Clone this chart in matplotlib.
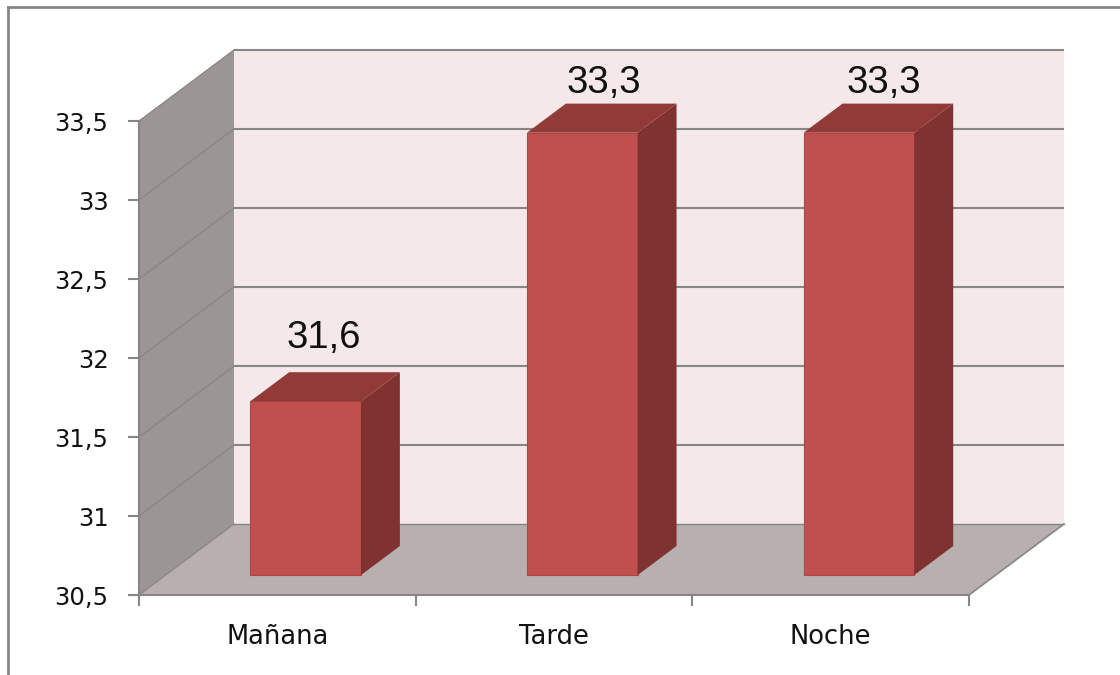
import matplotlib
matplotlib.use('Agg')
import matplotlib.pyplot as plt
from matplotlib.lines import Line2D
from matplotlib.patches import Polygon

categories = ['Mañana', 'Tarde', 'Noche']
values = [31.6, 33.3, 33.3]
value_labels = ['31,6', '33,3', '33,3']
y_ticks = [30.5, 31, 31.5, 32, 32.5, 33, 33.5]
y_tick_labels = ['30,5', '31', '31,5', '32', '32,5', '33', '33,5']

W, H = 1120, 675
BASE = 30.5
TOP = 33.5
# depth of the fake 3D box, in data units
DEPTH_X = 95 / (830 / 3)
DEPTH_Y = 71 / (474 / 3)
BAR_WIDTH = 0.4
BAR_SHIFT = 0.006
BAR_FRONT = 0.28
BAR_BACK = 0.69

GRID = '#868686'
WALL = '#9b9695'
FLOOR = '#b8afaf'
BACK = '#f4e8e8'
BAR = '#c0504d'
BAR_SIDE = '#7f3230'
BAR_TOP = '#923a38'


def project(x, y, depth):
    return x + depth * DEPTH_X, y + depth * DEPTH_Y


def face(ax, points, color, zorder, edge='none'):
    xy = [project(*p) for p in points]
    ax.add_patch(Polygon(xy, closed=True, facecolor=color, edgecolor=edge,
                         linewidth=0.8, clip_on=False, zorder=zorder))


def draw_box(ax):
    n = len(categories)
    face(ax, [(0, BASE, 1), (n, BASE, 1), (n, TOP, 1), (0, TOP, 1)], BACK, 1)
    face(ax, [(0, BASE, 0), (0, BASE, 1), (0, TOP, 1), (0, TOP, 0)], WALL, 1)
    face(ax, [(0, BASE, 0), (n, BASE, 0), (n, BASE, 1), (0, BASE, 1)], FLOOR, 1)
    for tick in y_ticks:
        x0, y0 = project(0, tick, 0)
        x1, y1 = project(0, tick, 1)
        x2, y2 = project(n, tick, 1)
        if tick != BASE:
            ax.plot([x1, x2], [y1, y2], color=GRID, lw=1.5, zorder=2, clip_on=False,
                    solid_capstyle='butt')
        else:
            ax.plot([x1, x2], [y1, y2], color=GRID, lw=1.0, zorder=2, clip_on=False)
        ax.plot([x0, x1], [y0, y1], color=GRID, lw=0.9, zorder=2, clip_on=False)
    x0, y0 = project(n, BASE, 0)
    x1, y1 = project(n, BASE, 1)
    ax.plot([x0, x1], [y0, y1], color=GRID, lw=1.2, zorder=2, clip_on=False)


def draw_bars(ax):
    nudges = [(-19, 24), (-16, 11), (-12, 11)]
    for i, value in enumerate(values):
        left = i + 0.5 - BAR_WIDTH / 2 + BAR_SHIFT
        right = left + BAR_WIDTH
        a, b = BAR_FRONT, BAR_BACK
        face(ax, [(left, BASE, a), (right, BASE, a), (right, value, a), (left, value, a)],
             BAR, 3, edge='#b04643')
        face(ax, [(right, BASE, a), (right, BASE, b), (right, value, b), (right, value, a)],
             BAR_SIDE, 3)
        face(ax, [(left, value, a), (right, value, a), (right, value, b), (left, value, b)],
             BAR_TOP, 3)
        x, y = project(i + 0.5, value, b)
        ax.annotate(value_labels[i], (x, y), xytext=nudges[i], textcoords='offset pixels',
                    ha='center', va='baseline', fontsize=27.5, family='Liberation Sans',
                    color='#111111', zorder=5, annotation_clip=False)


def set_axes(ax):
    ax.set_xlim(0, len(categories))
    ax.set_ylim(BASE, TOP)
    ax.patch.set_visible(False)
    for side in ['top', 'right']:
        ax.spines[side].set_visible(False)
    for side in ['left', 'bottom']:
        ax.spines[side].set_color(GRID)
        ax.spines[side].set_linewidth(1.5)
        ax.spines[side].set_zorder(2)
    ax.set_yticks(y_ticks)
    ax.set_yticklabels(y_tick_labels)
    ax.set_xticks(range(len(categories) + 1))
    ax.set_xticklabels([])
    ax.set_xticks([i + 0.5 for i in range(len(categories))], categories, minor=True)
    ax.tick_params(axis='both', which='major', color=GRID, width=1.5, length=8,
                   labelsize=17.5, labelcolor='#111111', pad=14)
    ax.tick_params(axis='x', which='minor', length=0, labelsize=18.5,
                   labelcolor='#111111', pad=21)


def main():
    fig = plt.figure(figsize=(W / 100, H / 100), dpi=100)
    ax = fig.add_axes([139 / W, 1 - 595 / H, 830 / W, 474 / H])
    draw_box(ax)
    draw_bars(ax)
    set_axes(ax)
    frame = dict(color=GRID, lw=2.0, transform=fig.transFigure)
    fig.add_artist(Line2D([8 / W, 8 / W], [0, 1 - 7 / H], **frame))
    fig.add_artist(Line2D([8 / W, 1], [1 - 7 / H, 1 - 7 / H], **frame))
    fig.savefig('out.png', dpi=100)


if __name__ == '__main__':
    main()
